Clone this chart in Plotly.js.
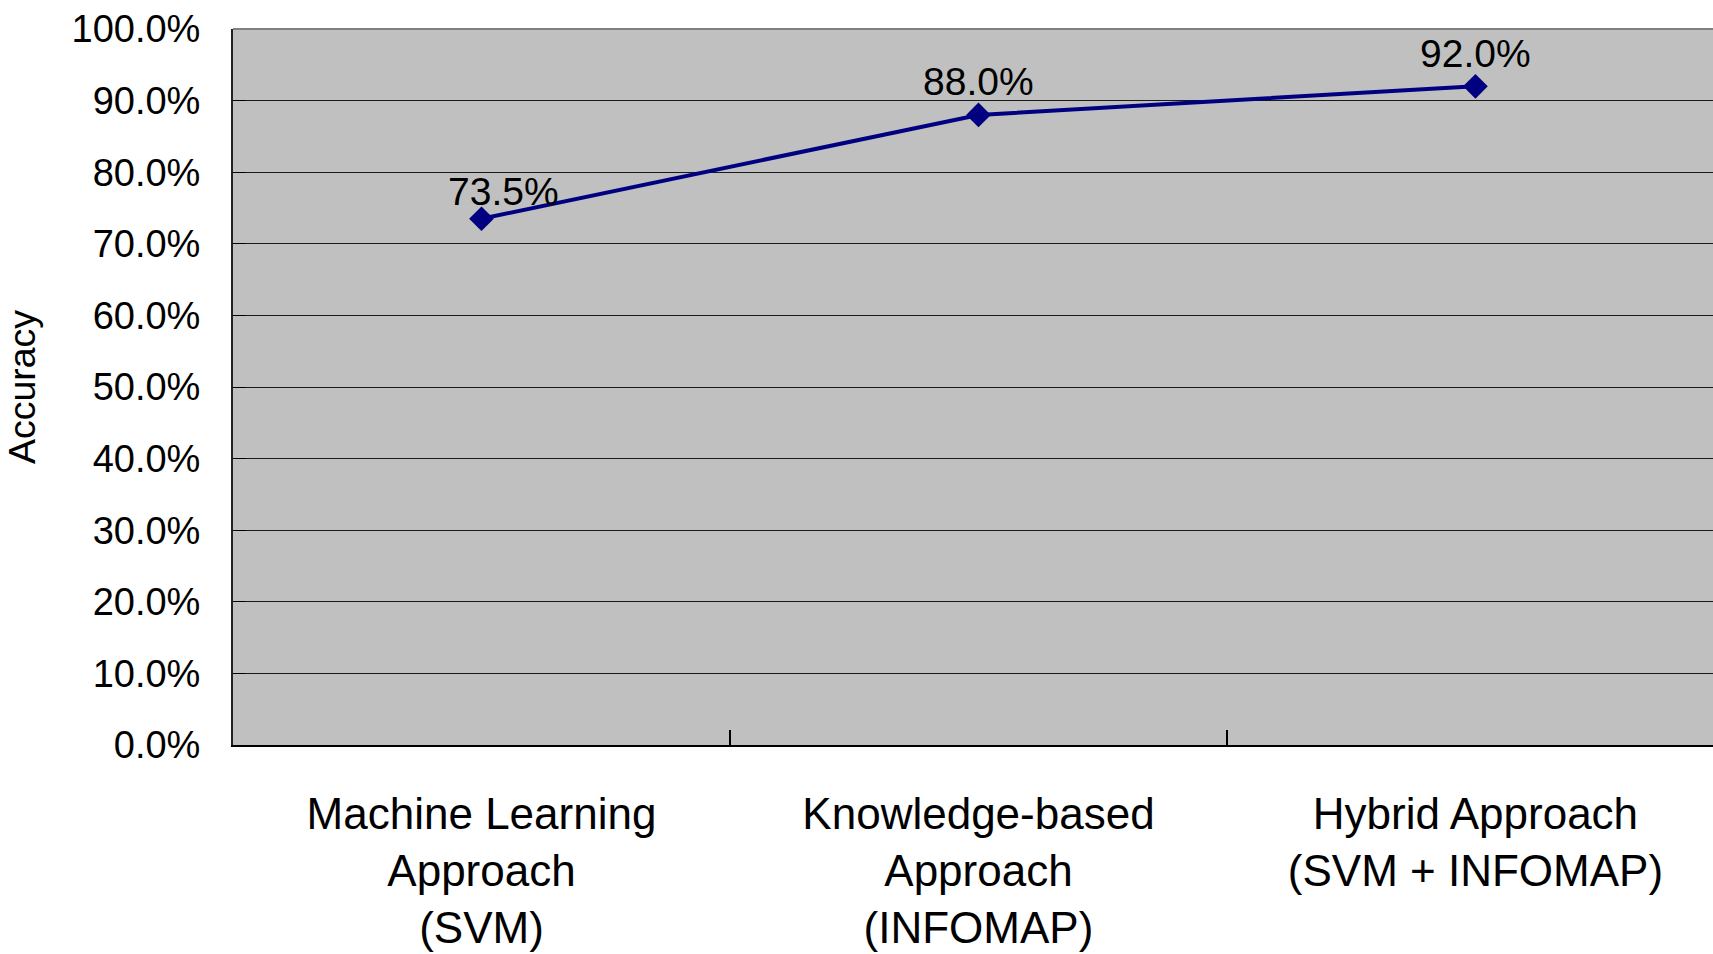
<!DOCTYPE html>
<html>
<head>
<meta charset="utf-8">
<script src="https://cdn.plot.ly/plotly-3.0.1.min.js"></script>
<style>html,body{margin:0;padding:0;background:#fff;}#chart{width:1713px;height:954px;}</style>
</head>
<body>
<div id="chart"></div>
<script>
const categories = [
  "Machine Learning<br>Approach<br>(SVM)",
  "Knowledge-based<br>Approach<br>(INFOMAP)",
  "Hybrid Approach<br>(SVM + INFOMAP)"
];
const accuracy = [0.735, 0.88, 0.92];
const yAxisTitle = "Accuracy";

const FONT = '"Liberation Sans", Arial, Helvetica, sans-serif';
const labelShiftX = [22, 0, 0];
const labelShiftY = [27, 33, 33];

const trace = {
  type: 'scatter',
  mode: 'lines+markers',
  x: categories,
  y: accuracy,
  line: {color: '#000080', width: 4},
  marker: {symbol: 'diamond', size: 19, color: '#000080'},
  hoverinfo: 'skip',
  showlegend: false,
  cliponaxis: false
};

const annotations = accuracy.map((v, i) => ({
  x: categories[i], y: v, xref: 'x', yref: 'y',
  text: (v * 100).toFixed(1) + '%',
  showarrow: false,
  xshift: labelShiftX[i], yshift: labelShiftY[i],
  yanchor: 'middle', xanchor: 'center',
  font: {family: FONT, size: 39, color: '#000'}
}));

const layout = {
  width: 1713, height: 954,
  margin: {l: 233, r: 0, t: 29, b: 209, pad: 0},
  paper_bgcolor: '#ffffff',
  plot_bgcolor: '#c0c0c0',
  font: {family: FONT, color: '#000'},
  xaxis: {
    type: 'category',
    range: [-0.5, 2.478],
    tickson: 'boundaries',
    ticks: 'inside', ticklen: 15, tickwidth: 1.5, tickcolor: '#000',
    showgrid: false,
    showline: true, linecolor: '#000', linewidth: 2,
    tickfont: {family: FONT, size: 44, color: '#000'},
    ticklabelstandoff: 29,
    zeroline: false,
    fixedrange: true
  },
  yaxis: {
    range: [0, 1],
    dtick: 0.1, tick0: 0,
    tickformat: '.1%',
    ticks: 'inside', ticklen: 13, tickwidth: 1, tickcolor: '#000',
    showgrid: true, gridcolor: '#1a1a1a', gridwidth: 1,
    showline: true, linecolor: '#222', linewidth: 2,
    zeroline: false,
    tickfont: {family: FONT, size: 38, color: '#000'},
    ticklabelstandoff: 23,
    title: {text: yAxisTitle, font: {family: FONT, size: 37.5, color: '#000'}, standoff: 24},
    fixedrange: true
  },
  shapes: [{
    type: 'line', xref: 'paper', yref: 'paper', x0: 0, x1: 1, y0: 1, y1: 1,
    line: {color: '#808080', width: 2}
  }],
  annotations: annotations
};

Plotly.newPlot('chart', [trace], layout, {displayModeBar: false, staticPlot: true});
</script>
</body>
</html>
